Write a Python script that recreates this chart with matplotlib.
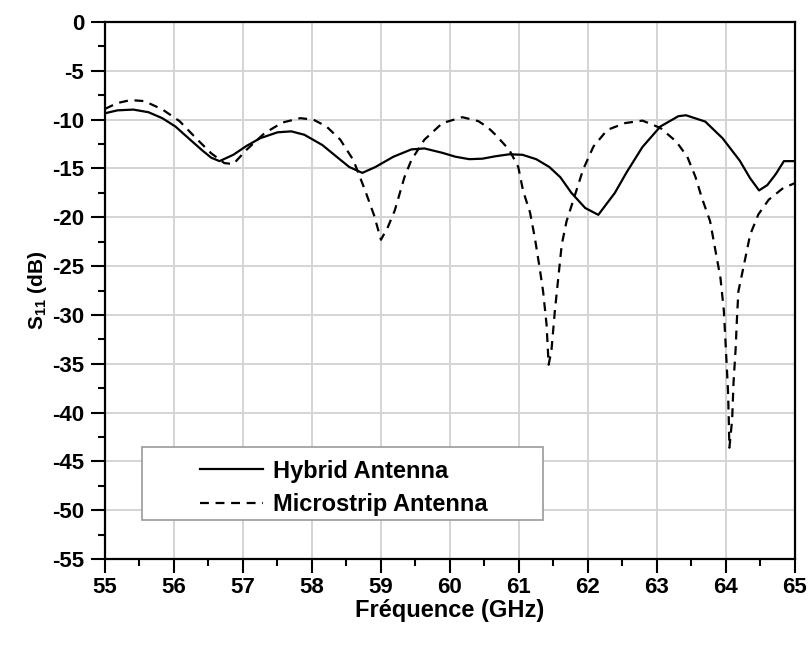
import numpy as np
import matplotlib.pyplot as plt
from matplotlib.patches import Rectangle
from matplotlib.ticker import MultipleLocator

plt.rcParams['font.family'] = ['Liberation Sans', 'DejaVu Sans']
plt.rcParams['mathtext.fontset'] = 'custom'
plt.rcParams['mathtext.bf'] = 'Liberation Sans:bold'
plt.rcParams['mathtext.rm'] = 'Liberation Sans'
plt.rcParams['axes.unicode_minus'] = False

# S11 of the hybrid antenna (GHz, dB)
f_hybrid = [55.0, 55.18, 55.41, 55.63, 55.83, 56.02, 56.21, 56.41, 56.54, 56.66,
            56.86, 57.05, 57.25, 57.5, 57.7, 57.89, 58.15, 58.34, 58.54, 58.73,
            58.92, 59.18, 59.44, 59.63, 59.89, 60.08, 60.28, 60.47, 60.66, 60.86,
            61.05, 61.25, 61.44, 61.6, 61.76, 61.96, 62.15, 62.39, 62.56, 62.79,
            63.05, 63.31, 63.42, 63.7, 63.95, 64.2, 64.35, 64.48, 64.6, 64.72,
            64.84, 65.0]
s11_hybrid = [-9.35, -9.05, -8.97, -9.24, -9.85, -10.7, -11.9, -13.15, -13.9, -14.25,
              -13.6, -12.7, -11.9, -11.3, -11.2, -11.55, -12.6, -13.7, -14.85, -15.45,
              -14.85, -13.8, -13.05, -12.95, -13.4, -13.8, -14.05, -14.0, -13.75, -13.55,
              -13.6, -14.05, -14.85, -15.9, -17.5, -19.05, -19.75, -17.5, -15.4, -12.8,
              -10.7, -9.65, -9.55, -10.2, -11.9, -14.2, -16.0, -17.25, -16.7, -15.6,
              -14.25, -14.25]

# S11 of the microstrip antenna (GHz, dB)
f_micro = [55.0, 55.18, 55.37, 55.57, 55.83, 56.08, 56.34, 56.54, 56.73, 56.86,
           57.05, 57.31, 57.57, 57.83, 58.02, 58.21, 58.41, 58.6, 58.77, 58.9,
           59.0, 59.1, 59.2, 59.34, 59.44, 59.63, 59.89, 60.18, 60.41, 60.55,
           60.66, 60.86, 60.99, 61.06, 61.16, 61.23, 61.30, 61.35, 61.40, 61.43,
           61.47, 61.52, 61.57, 61.62, 61.69, 61.79, 61.93, 62.08, 62.28, 62.54,
           62.79, 63.05, 63.28, 63.44, 63.56, 63.65, 63.77, 63.85, 63.92, 63.97,
           63.99, 64.01, 64.03, 64.04, 64.05, 64.09, 64.11, 64.14, 64.16, 64.18,
           64.26, 64.35, 64.47, 64.62, 64.83, 65.0]
s11_micro = [-8.9, -8.3, -8.0, -8.1, -8.95, -10.15, -12.05, -13.45, -14.45, -14.55,
             -13.1, -11.4, -10.3, -9.85, -10.0, -10.7, -12.05, -14.15, -17.25, -19.8,
             -22.3, -21.0, -19.3, -15.9, -14.15, -12.05, -10.35, -9.75, -10.15, -10.8,
             -11.55, -13.1, -14.85, -17.3, -19.5, -22.1, -25.2, -27.6, -31.0, -35.1,
             -33.7, -29.6, -26.2, -22.8, -20.4, -18.2, -15.1, -12.75, -11.05, -10.35,
             -10.1, -10.85, -12.25, -13.8, -15.9, -18.0, -20.4, -23.5, -26.2, -29.6,
             -32.3, -35.0, -37.8, -40.5, -43.6, -40.7, -36.9, -33.5, -30.3, -27.6,
             -24.9, -21.8, -19.7, -18.2, -17.0, -16.5]

fig = plt.figure(figsize=(8.12, 6.45), dpi=100)
ax = fig.add_axes([0.1293, 0.1333, 0.8497, 0.8326])

ax.plot(f_hybrid, s11_hybrid, color='black', lw=1.6, label='Hybrid Antenna')
ax.plot(f_micro, s11_micro, color='black', lw=1.6, ls=(0, (4, 3)), label='Microstrip Antenna')

ax.set_xlim(55, 65)
ax.set_ylim(-55, 0)
ax.xaxis.set_major_locator(MultipleLocator(1))
ax.xaxis.set_minor_locator(MultipleLocator(0.5))
ax.yaxis.set_major_locator(MultipleLocator(5))
ax.yaxis.set_minor_locator(MultipleLocator(2.5))
ax.grid(True, which='major', color='#d4d4d4', lw=1.4)
ax.set_axisbelow(True)

ax.tick_params(which='major', direction='out', length=10, width=1.5, labelsize=16, pad=5)
ax.tick_params(axis='x', which='major', pad=3)
ax.tick_params(which='minor', direction='out', length=5, width=1.5)
for lab in ax.get_xticklabels() + ax.get_yticklabels():
    lab.set_fontweight('bold')
for sp in ax.spines.values():
    sp.set_linewidth(1.6)

ax.set_xlabel('Fréquence (GHz)', fontsize=17, fontweight='bold', labelpad=1)
ax.set_ylabel(r'$\mathbf{S_{11}}$ (dB)', fontsize=15, fontweight='bold', labelpad=2)

# legend box drawn separately so the entries can sit inset from its left edge
ax.add_patch(Rectangle((0.0532, 0.0726), 0.5818, 0.1364, transform=ax.transAxes,
                       facecolor='white', edgecolor='#999999', lw=1.2, zorder=4))
leg = ax.legend(loc='upper left', bbox_to_anchor=(0.137, 0.185), frameon=False,
                prop={'weight': 'bold', 'size': 17}, handlelength=2.7, handletextpad=0.4,
                borderpad=0, labelspacing=0.45, borderaxespad=0)
leg.set_zorder(5)

fig.savefig('out.png', dpi=100)
